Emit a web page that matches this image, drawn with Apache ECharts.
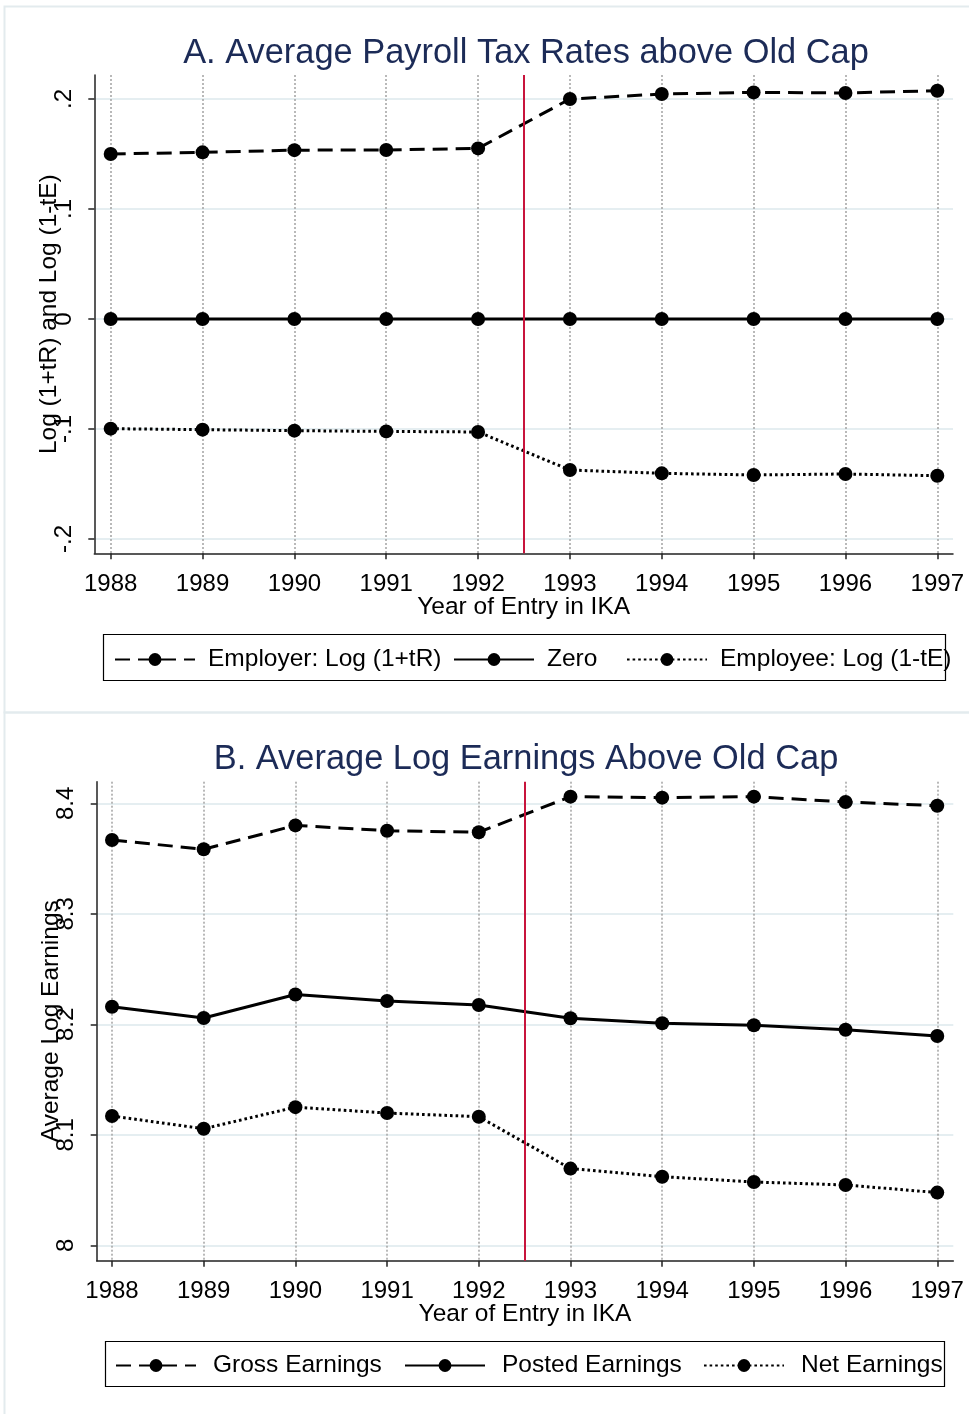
<!DOCTYPE html>
<html>
<head>
<meta charset="utf-8">
<script src="https://cdn.jsdelivr.net/npm/echarts@6/dist/echarts.min.js"></script>
<style>
  html, body { margin: 0; padding: 0; background: #ffffff; }
  #chart { width: 969px; height: 1414px; }
</style>
</head>
<body>
<div id="chart"></div>
<script>
// Year of entry in IKA
const years = [1988, 1989, 1990, 1991, 1992, 1993, 1994, 1995, 1996, 1997];

// Panel A: payroll tax rates above the old cap
const employerLog = [0.150, 0.1515, 0.1535, 0.1536, 0.1551, 0.200, 0.2045, 0.2060, 0.2055, 0.2075];
const zeroLine    = [0, 0, 0, 0, 0, 0, 0, 0, 0, 0];
const employeeLog = [-0.0997, -0.1006, -0.1015, -0.1022, -0.1027, -0.1373, -0.1403, -0.1418, -0.1409, -0.1425];

// Panel B: average log earnings above the old cap
const grossEarnings  = [8.3668, 8.3584, 8.3800, 8.3752, 8.3738, 8.4060, 8.4051, 8.4060, 8.4012, 8.3978];
const postedEarnings = [8.2159, 8.2057, 8.2270, 8.2211, 8.2175, 8.2055, 8.2009, 8.1991, 8.1951, 8.1894];
const netEarnings    = [8.1170, 8.1055, 8.1250, 8.1197, 8.1164, 8.0694, 8.0621, 8.0573, 8.0546, 8.0477];

// Axis ticks
const taxTicks  = [-0.2, -0.1, 0, 0.1, 0.2];
const earnTicks = [8.0, 8.1, 8.2, 8.3, 8.4];

// Reform threshold
const reformYear = 1992.5;

const FONT = "'Liberation Sans', Arial, sans-serif";
const TITLE_COLOR = '#1c2b57';
const AXIS_COLOR = '#222222';

const pairs = vals => years.map((y, i) => [y, vals[i]]);

const dashStyle  = [15, 8];
const dotStyle   = [2.6, 3];

function lineSeries(name, vals, type, axisIndex, extra) {
  return Object.assign({
    name: name,
    type: 'line',
    xAxisIndex: axisIndex,
    yAxisIndex: axisIndex,
    data: pairs(vals),
    symbol: 'circle',
    symbolSize: 14,
    showAllSymbol: true,
    itemStyle: { color: '#000000' },
    lineStyle: { color: '#000000', width: 3, type: type },
    z: 3
  }, extra || {});
}

function reformMark() {
  return {
    silent: true,
    symbol: ['none', 'none'],
    label: { show: false },
    lineStyle: { color: '#c8143c', width: 2, type: 'solid' },
    data: [{ xAxis: reformYear }],
    animation: false
  };
}

const fmtTax = v => {
  if (Math.abs(v) < 1e-9) return '0';
  return v.toFixed(1).replace('0.', '.');
};
const fmtEarn = v => {
  const s = v.toFixed(1);
  return s.endsWith('.0') ? s.slice(0, -2) : s;
};

function xAxisDef(gridIndex, min, max) {
  return {
    type: 'value',
    gridIndex: gridIndex,
    min: min,
    max: max,
    name: 'Year of Entry in IKA',
    nameLocation: 'middle',
    nameGap: 41,
    nameMoveOverlap: false,
    nameTextStyle: { fontFamily: FONT, fontSize: 24.5, color: '#000000' },
    axisLine: { show: true, onZero: false, lineStyle: { color: AXIS_COLOR, width: 1.5 } },
    axisTick: { show: true, length: 6, customValues: years, lineStyle: { color: AXIS_COLOR, width: 1.5 } },
    axisLabel: {
      customValues: years,
      margin: 19,
      fontFamily: FONT, fontSize: 24, color: '#000000',
      formatter: v => String(Math.round(v))
    },
    splitLine: { show: true, lineStyle: { color: '#a9a9a9', width: 1.6, type: [2, 2] } }
  };
}

function yAxisDef(gridIndex, min, max, ticks, fmt, name) {
  return {
    type: 'value',
    gridIndex: gridIndex,
    min: min,
    max: max,
    name: name,
    nameLocation: 'middle',
    nameGap: 33,
    nameMoveOverlap: false,
    nameTextStyle: { fontFamily: FONT, fontSize: 24.5, color: '#000000' },
    axisLine: { show: true, onZero: false, lineStyle: { color: AXIS_COLOR, width: 1.5 } },
    axisTick: { show: true, length: 6, customValues: ticks, lineStyle: { color: AXIS_COLOR, width: 1.5 } },
    axisLabel: {
      customValues: ticks,
      rotate: 90,
      margin: 18,
      fontFamily: FONT, fontSize: 24, color: '#000000',
      formatter: fmt
    },
    splitLine: { show: true, lineStyle: { color: '#e5eef1', width: 2 } }
  };
}

function legendItem(name, left, top, gap) {
  return {
    data: [name],
    left: left,
    top: top,
    orient: 'horizontal',
    padding: 0,
    itemWidth: 80,
    itemHeight: 16,
    itemGap: 0,
    selectedMode: false,
    textStyle: { fontFamily: FONT, fontSize: 24.5, color: '#000000', padding: [0, 0, 0, gap] }
  };
}

const chart = echarts.init(document.getElementById('chart'), null, { renderer: 'canvas' });

chart.setOption({
  animation: false,
  backgroundColor: '#ffffff',
  title: [
    {
      text: 'A. Average Payroll Tax Rates above Old Cap',
      left: 521, top: 32, textAlign: 'center',
      textStyle: { fontFamily: FONT, fontSize: 34.4, fontWeight: 'normal', color: TITLE_COLOR }
    },
    {
      text: 'B. Average Log Earnings Above Old Cap',
      left: 521, top: 738, textAlign: 'center',
      textStyle: { fontFamily: FONT, fontSize: 34.4, fontWeight: 'normal', color: TITLE_COLOR }
    }
  ],
  graphic: [
    { type: 'rect', shape: { x: 4.5, y: 6.5, width: 972, height: 706 }, style: { fill: 'none', stroke: '#e3ebee', lineWidth: 2 }, z: -1, silent: true },
    { type: 'rect', shape: { x: 4.5, y: 712.5, width: 972, height: 712 }, style: { fill: 'none', stroke: '#e3ebee', lineWidth: 2 }, z: -1, silent: true },
    { type: 'rect', shape: { x: 103.5, y: 634.5, width: 842, height: 46 }, style: { fill: 'none', stroke: '#000000', lineWidth: 1.2 }, z: 10, silent: true },
    { type: 'rect', shape: { x: 105.5, y: 1341.5, width: 839, height: 45 }, style: { fill: 'none', stroke: '#000000', lineWidth: 1.2 }, z: 10, silent: true }
  ],
  grid: [
    { left: 94.3, top: 75, width: 858.7, height: 478.3, containLabel: false },
    { left: 96.7, top: 781.7, width: 856.6, height: 479, containLabel: false }
  ],
  xAxis: [
    xAxisDef(0, 1987.8214, 1997.171),
    xAxisDef(1, 1987.833, 1997.175)
  ],
  yAxis: [
    yAxisDef(0, -0.2130, 0.22182, taxTicks, fmtTax, 'Log (1+tR) and Log (1-tE)'),
    yAxisDef(1, 7.98606, 8.41955, earnTicks, fmtEarn, 'Average Log Earnings')
  ],
  legend: [
    legendItem('Employer: Log (1+tR)', 114, 647, 8),
    legendItem('Zero', 453, 647, 8),
    legendItem('Employee: Log (1-tE)', 626, 647, 8),
    legendItem('Gross Earnings', 115, 1353, 12),
    legendItem('Posted Earnings', 404, 1353, 12),
    legendItem('Net Earnings', 703, 1353, 12)
  ],
  series: [
    lineSeries('Employer: Log (1+tR)', employerLog, dashStyle, 0, { markLine: reformMark() }),
    lineSeries('Zero', zeroLine, 'solid', 0),
    lineSeries('Employee: Log (1-tE)', employeeLog, dotStyle, 0),
    lineSeries('Gross Earnings', grossEarnings, dashStyle, 1, { markLine: reformMark() }),
    lineSeries('Posted Earnings', postedEarnings, 'solid', 1),
    lineSeries('Net Earnings', netEarnings, dotStyle, 1)
  ]
});
</script>
</body>
</html>
